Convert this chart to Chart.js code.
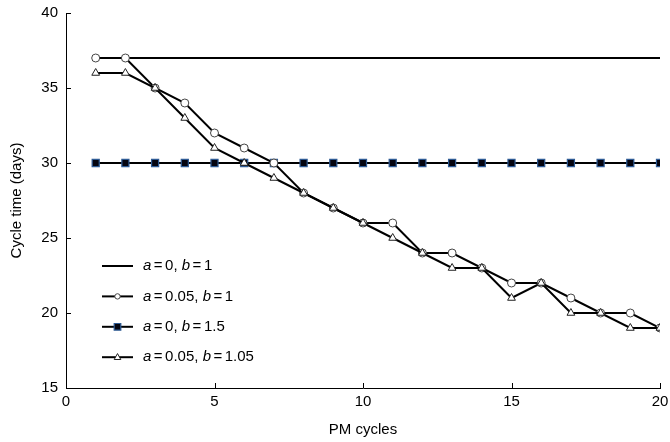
<!DOCTYPE html>
<html>
<head>
<meta charset="utf-8">
<script src="https://cdn.jsdelivr.net/npm/chart.js@4/dist/chart.umd.min.js"></script>
<style>
  html, body { margin: 0; padding: 0; background: #fff; }
  #wrap { width: 670px; height: 442px; position: relative; }
</style>
</head>
<body>
<div id="wrap"><canvas id="c" width="670" height="442"></canvas></div>
<script>
// ---- data ----
const pmCycles = [1,2,3,4,5,6,7,8,9,10,11,12,13,14,15,16,17,18,19,20];
const seriesA0B1 = [37,37,37,37,37,37,37,37,37,37,37,37,37,37,37,37,37,37,37,37];
const seriesA005B1 = [37,37,35,34,32,31,30,28,27,26,26,24,24,23,22,22,21,20,20,19];
const seriesA0B15 = [30,30,30,30,30,30,30,30,30,30,30,30,30,30,30,30,30,30,30,30];
const seriesA005B105 = [36,36,35,33,31,30,29,28,27,26,25,24,23,23,21,22,20,20,19,19];
const seriesLabels = ['a=0, b=1', 'a=0.05, b=1', 'a=0, b=1.5', 'a=0.05, b=1.05'];
const xTicks = [0,5,10,15,20];
const yTicks = [15,20,25,30,35,40];
const xTitle = 'PM cycles';
const yTitle = 'Cycle time (days)';

const FONT = "'Liberation Sans', Arial, Helvetica, sans-serif";
const toXY = (vals) => vals.map((v, i) => ({x: pmCycles[i], y: v}));

const styles = [
  {pointStyle: false, radius: 0, bg: '#fff', border: '#000', bw: 0, order: 3},
  {pointStyle: 'circle', radius: 4, bg: '#fff', border: '#444', bw: 1, order: 1},
  {pointStyle: 'rect', radius: 5, bg: '#050510', border: '#2d5a94', bw: 1.2, order: 2},
  {pointStyle: 'triangle', radius: 4.5, bg: '#fff', border: '#222', bw: 1, order: 0}
];
const allSeries = [seriesA0B1, seriesA005B1, seriesA0B15, seriesA005B105];

const datasets = allSeries.map((s, i) => ({
  label: seriesLabels[i],
  data: toXY(s),
  borderColor: '#000',
  borderWidth: 2,
  backgroundColor: styles[i].bg,
  pointStyle: styles[i].pointStyle,
  pointRadius: styles[i].radius,
  pointBackgroundColor: styles[i].bg,
  pointBorderColor: styles[i].border,
  pointBorderWidth: styles[i].bw,
  pointHoverRadius: styles[i].radius,
  tension: 0,
  fill: false,
  order: styles[i].order
}));

// inward tick marks
const inwardTicks = {
  id: 'inwardTicks',
  afterDraw(chart) {
    const ctx = chart.ctx;
    const xs = chart.scales.x, ys = chart.scales.y;
    const area = chart.chartArea;
    ctx.save();
    ctx.strokeStyle = '#000';
    ctx.lineWidth = 1;
    ctx.beginPath();
    xTicks.forEach(t => {
      const px = Math.round(xs.getPixelForValue(t)) + 0.5;
      ctx.moveTo(px, area.bottom);
      ctx.lineTo(px, area.bottom - 5);
    });
    yTicks.forEach(t => {
      const py = Math.round(ys.getPixelForValue(t)) + 0.5;
      ctx.moveTo(area.left, py);
      ctx.lineTo(area.left + 5, py);
    });
    ctx.stroke();
    ctx.restore();
  }
};

// custom legend with italic parameter letters
function drawMarker(ctx, style, x, y, r) {
  ctx.save();
  ctx.fillStyle = style.bg;
  ctx.strokeStyle = style.border;
  ctx.lineWidth = style.bw;
  ctx.beginPath();
  if (style.pointStyle === 'circle') {
    ctx.arc(x, y, r, 0, Math.PI * 2);
  } else if (style.pointStyle === 'rect') {
    ctx.rect(x - r, y - r, 2 * r, 2 * r);
  } else if (style.pointStyle === 'triangle') {
    ctx.moveTo(x, y - r * 1.1);
    ctx.lineTo(x + r, y + r * 0.7);
    ctx.lineTo(x - r, y + r * 0.7);
    ctx.closePath();
  }
  ctx.fill();
  ctx.stroke();
  ctx.restore();
}

const customLegend = {
  id: 'customLegend',
  afterDraw(chart) {
    const ctx = chart.ctx;
    const x0 = 102, x1 = 133, tx = 143, y0 = 266, dy = 30.4;
    const sizes = [0, 2.7, 3.3, 3.3];
    seriesLabels.forEach((lab, i) => {
      const y = y0 + dy * i;
      ctx.save();
      ctx.strokeStyle = '#000';
      ctx.lineWidth = 2;
      ctx.beginPath();
      ctx.moveTo(x0, y);
      ctx.lineTo(x1, y);
      ctx.stroke();
      ctx.restore();
      if (styles[i].pointStyle) drawMarker(ctx, styles[i], (x0 + x1) / 2, y, sizes[i]);
      const runs = [];
      let cur = '';
      for (const ch of lab) {
        if (ch === 'a' || ch === 'b' || ch === '=') {
          if (cur) runs.push({t: cur, it: false});
          cur = '';
          runs.push({t: ch, it: ch !== '=', eq: ch === '='});
        } else cur += ch;
      }
      if (cur) runs.push({t: cur, it: false});
      let x = tx;
      ctx.save();
      ctx.fillStyle = '#000';
      ctx.textBaseline = 'middle';
      ctx.textAlign = 'left';
      runs.forEach(r => {
        ctx.font = (r.it ? 'italic ' : '') + '15px ' + FONT;
        if (r.eq) x += 2.5;
        ctx.fillText(r.t, x, y);
        x += ctx.measureText(r.t).width;
        if (r.eq) x += 2.5;
      });
      ctx.restore();
    });
  }
};

new Chart(document.getElementById('c'), {
  type: 'line',
  data: { datasets },
  options: {
    responsive: false,
    animation: false,
    events: [],
    layout: { padding: { top: 13, right: 10, left: 0, bottom: 0 } },
    plugins: { legend: { display: false }, tooltip: { enabled: false } },
    scales: {
      x: {
        type: 'linear',
        min: 0, max: 20,
        afterFit: (s) => { s.height = 54; s.paddingLeft = 0; s.paddingRight = 0; },
        afterBuildTicks: (s) => { s.ticks = xTicks.map(v => ({value: v})); },
        grid: { display: true, drawOnChartArea: false, drawTicks: false },
        border: { display: true, color: '#000', width: 1 },
        ticks: { color: '#000', padding: 5, font: { size: 15, family: FONT } },
        title: { display: true, text: xTitle, color: '#000', font: { size: 15, family: FONT }, padding: { top: 0, bottom: 3 } }
      },
      y: {
        type: 'linear',
        min: 15, max: 40,
        afterFit: (s) => { s.width = 66; s.paddingTop = 0; s.paddingBottom = 0; },
        afterBuildTicks: (s) => { s.ticks = yTicks.map(v => ({value: v})); },
        grid: { display: true, drawOnChartArea: false, drawTicks: false },
        border: { display: true, color: '#000', width: 1 },
        ticks: { color: '#000', padding: 8, font: { size: 15, family: FONT } },
        title: { display: true, text: yTitle, color: '#000', font: { size: 15, family: FONT }, padding: { top: 8, bottom: 0 } }
      }
    }
  },
  plugins: [inwardTicks, customLegend]
});
</script>
</body>
</html>
